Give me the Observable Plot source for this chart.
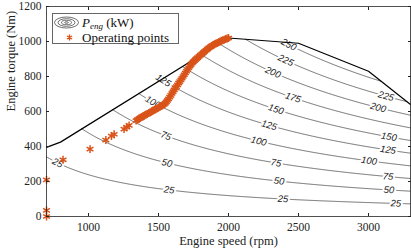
<!DOCTYPE html>
<html><head><meta charset="utf-8">
<script src="https://cdn.jsdelivr.net/npm/d3@7"></script>
<script src="https://cdn.jsdelivr.net/npm/@observablehq/plot@0.6"></script>
<style>
body{margin:0;background:#fff;}
#wrap{position:relative;width:411px;height:251px;overflow:hidden;}
#legend{position:absolute;left:52px;top:13px;width:125px;height:29px;border:0.8px solid #666;background:#fff;font-family:"Liberation Serif",serif;font-size:13px;color:#111;}
#legend .row{position:absolute;left:0;height:13px;line-height:13px;white-space:nowrap;}
#legend svg{position:absolute;}
#legend .txt{position:absolute;left:29px;top:0;}
#legend sub{font-size:9px;font-style:italic;line-height:0;vertical-align:-2px;}
</style></head><body><div id="wrap"><div id="legend">
<div class="row" style="top:2px;width:125px"><svg width="28" height="13" style="left:0;top:0"><g fill="none" stroke="#333" stroke-width="0.7"><ellipse cx="13.5" cy="6.5" rx="12" ry="5.5"/><ellipse cx="13.5" cy="6.5" rx="8.5" ry="3.8"/><ellipse cx="13.5" cy="6.5" rx="5" ry="2.2"/><ellipse cx="13.5" cy="6.5" rx="1.8" ry="0.8"/></g></svg><span class="txt"><i>P</i><sub>eng</sub>&nbsp;(kW)</span></div>
<div class="row" style="top:17px;width:125px"><svg width="28" height="13" style="left:0;top:0"><g stroke="#D95319" stroke-width="1.4"><path d="M16.5,3.5v6M13.9,5l5.2,3M13.9,8l5.2,-3"/></g></svg><span class="txt">Operating points</span></div>
</div></div>
<script>
const powerLevels = [25, 50, 75, 100, 125, 150, 175, 200, 225, 250];
const maxTorqueSpeed = [700, 800, 2000, 2500, 3000, 3300];
const maxTorqueValue = [395, 425, 1020, 990, 830, 640];
const opSpeed = [700, 700, 700, 818, 1011, 1124, 1164, 1183, 1254, 1274, 1290,
  1340, 1350, 1362, 1371, 1380, 1390, 1400, 1410, 1420, 1430, 1440, 1450, 1460, 1470,
  1480, 1490, 1500, 1510, 1520, 1530, 1540, 1548, 1556, 1564,
  1572, 1580, 1588, 1596, 1604, 1612, 1620, 1628, 1636, 1644, 1652, 1660, 1668, 1676,
  1684, 1692, 1700, 1708, 1716, 1724, 1732, 1740, 1748, 1756, 1764, 1772, 1780,
  1790, 1800, 1810, 1820, 1830, 1840, 1850, 1860, 1870, 1880, 1890, 1900, 1910,
  1920, 1930, 1940, 1950, 1960, 1970, 1980, 1990, 2000];
const opTorque = [0, 35, 209, 324, 385, 437, 460, 470, 499, 511, 521,
  548, 553, 560, 564, 568, 573, 577, 582, 586, 591, 595, 600, 604, 609,
  613, 618, 622, 627, 632, 636, 641, 647, 655, 663,
  672, 682, 692, 703, 713, 723, 733, 742, 752, 762, 771, 781, 790, 800,
  810, 820, 830, 840, 850, 859, 868, 876, 884, 890, 896, 902, 908,
  915, 922, 929, 936, 943, 950, 957, 963, 969, 975, 980, 984, 988,
  992, 996, 1000, 1004, 1007, 1011, 1014, 1017, 1020];
const labelSpeed = [780, 1575, 2389, 3196, 1560, 2361, 3146, 1553, 2339, 3139,
  1460, 2216, 3003, 1535, 2290, 3139, 2339, 3146, 2460, 2318, 3069, 2409, 3125, 2431];
const labelLevel = [25, 25, 25, 25, 50, 50, 50, 75, 75, 75,
  100, 100, 100, 125, 125, 125, 150, 150, 175, 200, 200, 225, 225, 250];
const xTicks = [1000, 1500, 2000, 2500, 3000];
const yTicks = [0, 200, 400, 600, 800, 1000, 1200];

const W = 411, H = 251, mL = 46, mR = 1, mT = 6, mB = 35;
const xDom = [700, 3300], yDom = [0, 1200];
const kx = (W - mL - mR) / (xDom[1] - xDom[0]);
const ky = (H - mT - mB) / (yDom[1] - yDom[0]);
const torqueOf = (P, n) => P * 60000 / (2 * Math.PI * n);
const maxT = d3.scaleLinear().domain(maxTorqueSpeed).range(maxTorqueValue);

const maxRows = maxTorqueSpeed.map((n, i) => ({n, T: maxTorqueValue[i]}));
const opRows = opSpeed.map((n, i) => ({n, T: opTorque[i]}));

const contourRows = [];
for (const P of powerLevels) {
  let seg = 0, prevIn = null, prevN = null;
  const inside = n => torqueOf(P, n) <= maxT(n);
  for (let n = xDom[0]; n <= xDom[1]; n += 5) {
    const isIn = inside(n);
    if (prevIn !== null && isIn !== prevIn) {
      let a = prevN, b = n;
      for (let k = 0; k < 30; k++) { const m = (a + b) / 2; if (inside(m) === prevIn) a = m; else b = m; }
      const c = (a + b) / 2;
      if (isIn) { seg++; contourRows.push({n: c, T: torqueOf(P, c), z: P + "_" + seg}); }
      else contourRows.push({n: c, T: torqueOf(P, c), z: P + "_" + seg});
    }
    if (isIn) contourRows.push({n, T: torqueOf(P, n), z: P + "_" + seg});
    prevIn = isIn; prevN = n;
  }
}
const labelRows = labelSpeed.map((n, i) => {
  const P = labelLevel[i], T = torqueOf(P, n);
  const slope = (ky / kx) * T / n;
  return {n, T, P, angle: Math.atan(slope) * 180 / Math.PI};
});

const serif = "'Liberation Serif', serif";
const chart = Plot.plot({
  width: W, height: H, marginLeft: mL, marginRight: mR, marginTop: mT, marginBottom: mB,
  style: {fontFamily: serif, fontSize: "11.5px", background: "white", color: "#222"},
  x: {domain: xDom, label: null},
  y: {domain: yDom, label: null},
  marks: [
    Plot.line(contourRows, {x: "n", y: "T", z: "z", stroke: "#333", strokeWidth: 0.7}),
    Plot.text(labelRows, {x: "n", y: "T", text: d => String(d.P), rotate: "angle",
      fontSize: 9.5, fontStyle: "italic", fontFamily: "'Liberation Sans', sans-serif",
      fill: "#222", stroke: "white", strokeWidth: 4, paintOrder: "stroke"}),
    Plot.line(maxRows, {x: "n", y: "T", stroke: "#000", strokeWidth: 1.2}),
    Plot.dot(opRows, {x: "n", y: "T", symbol: "asterisk", r: 3.7, stroke: "#D95319", strokeWidth: 1.5}),
    Plot.frame({stroke: "#262626", strokeWidth: 0.8}),
    Plot.axisX({ticks: xTicks, tickSize: -3, tickPadding: 9, tickFormat: d => String(d), label: null, fontSize: 11.5, fontFamily: serif}),
    Plot.axisX({anchor: "top", ticks: xTicks, tickSize: -3, tickFormat: () => "", label: null}),
    Plot.axisY({ticks: yTicks, tickSize: -3, tickPadding: 8, tickFormat: d => String(d), label: null, fontSize: 11.5, fontFamily: serif}),
    Plot.axisY({anchor: "right", ticks: yTicks, tickSize: -3, tickFormat: () => "", label: null}),
    Plot.text(["Engine speed (rpm)"], {frameAnchor: "bottom", dy: 28, fontSize: 12.5, fill: "#222"}),
    Plot.text(["Engine torque (Nm)"], {frameAnchor: "left", dx: -36, rotate: -90, fontSize: 12.5, fill: "#222"})
  ]
});
document.getElementById("wrap").prepend(chart);
</script></body></html>
